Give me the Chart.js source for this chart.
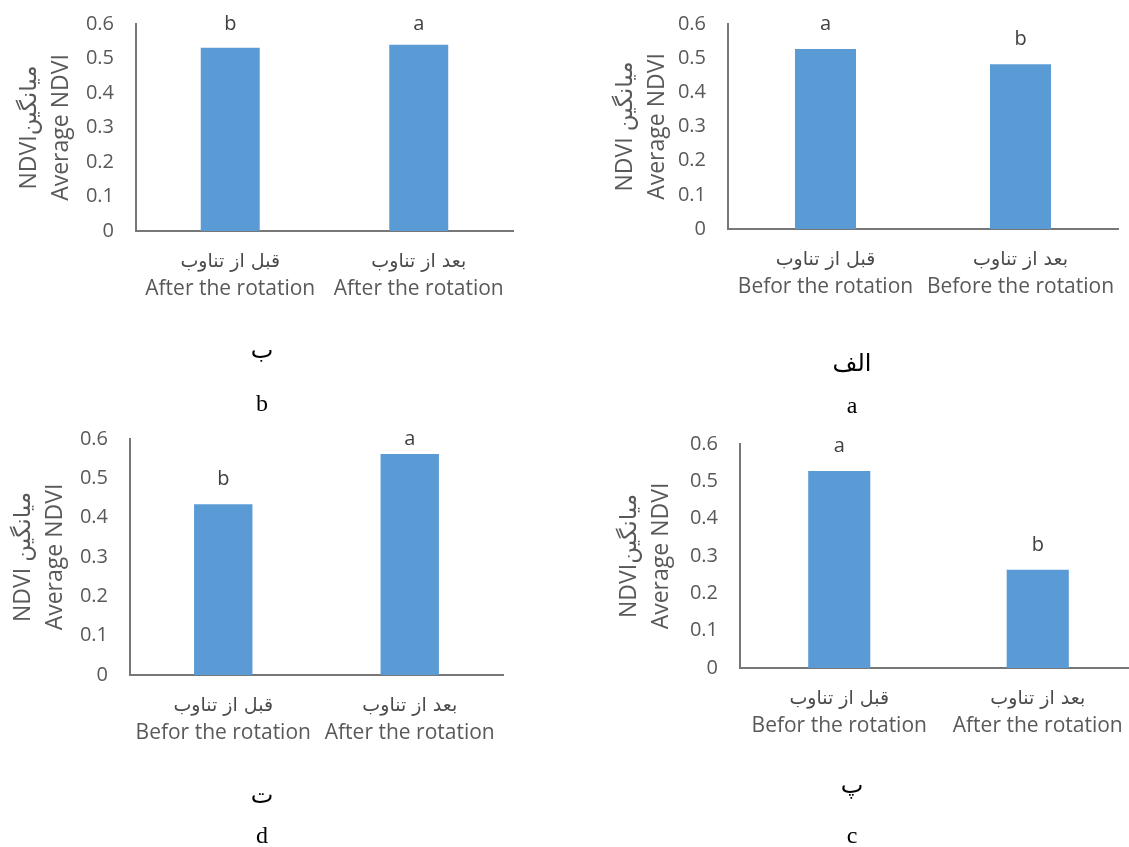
<!DOCTYPE html>
<html><head><meta charset="utf-8">
<script src="https://cdn.jsdelivr.net/npm/chart.js@4.4.1/dist/chart.umd.min.js"></script>
<style>
html,body{margin:0;padding:0;background:#fff;overflow:hidden;width:1129px;height:847px;position:relative;}
canvas{position:absolute;}
.cap{position:absolute;width:120px;text-align:center;font-family:"Liberation Serif","DejaVu Serif","DejaVu Sans",serif;font-size:24px;line-height:30px;color:#000;}
</style></head><body>
<canvas id="cB"></canvas>
<canvas id="cA"></canvas>
<canvas id="cD"></canvas>
<canvas id="cC"></canvas>
<div class="cap" style="left:202px;top:335px;">ب</div>
<div class="cap" style="left:202px;top:388px;">b</div>
<div class="cap" style="left:792px;top:348px;">الف</div>
<div class="cap" style="left:792px;top:390px;">a</div>
<div class="cap" style="left:202px;top:780px;">ت</div>
<div class="cap" style="left:202px;top:820px;">d</div>
<div class="cap" style="left:792px;top:770px;">پ</div>
<div class="cap" style="left:792px;top:820px;">c</div>
<script>
// ---- data ----
const categoriesFa = ["قبل از تناوب", "بعد از تناوب"];
const labelsEnA = ["Befor the rotation", "Before the rotation"];
const labelsEnB = ["After the rotation", "After the rotation"];
const labelsEnC = ["Befor the rotation", "After the rotation"];
const labelsEnD = ["Befor the rotation", "After the rotation"];
const valuesA = [0.527, 0.482];
const valuesB = [0.531, 0.540];
const valuesC = [0.528, 0.263];
const valuesD = [0.434, 0.562];
const lettersA = ["a", "b"];
const lettersB = ["b", "a"];
const lettersC = ["a", "b"];
const lettersD = ["b", "a"];
const yTickLabels = ["0", "0.1", "0.2", "0.3", "0.4", "0.5", "0.6"];
const yTitleA = ["NDVI میانگین", "Average NDVI"];
const yTitleB = ["NDVIمیانگین", "Average NDVI"];
const yTitleC = ["NDVIمیانگین", "Average NDVI"];
const yTitleD = ["NDVI میانگین", "Average NDVI"];

// ---- style ----
const BAR = "#5B9BD5";
const AXIS = "#777777";
const TXT = "#595959";
const FONT = "'Open Sans','DejaVu Sans',sans-serif";

function makeChart(id, box, area, labelsEn, values, letters, yTitle, titlePad) {
  const cv = document.getElementById(id);
  cv.width = box.w; cv.height = box.h;
  cv.style.left = box.x + "px"; cv.style.top = box.y + "px";
  cv.style.width = box.w + "px"; cv.style.height = box.h + "px";
  const extra = {
    id: "extra_" + id,
    afterDatasetsDraw(chart) {
      const ctx = chart.ctx;
      const meta = chart.getDatasetMeta(0);
      ctx.save();
      ctx.fillStyle = "#404040";
      ctx.font = "20px " + FONT;
      ctx.textAlign = "center";
      ctx.textBaseline = "middle";
      meta.data.forEach((bar, i) => {
        const y = Math.max(bar.y - 25, chart.chartArea.top);
        ctx.fillText(letters[i], bar.x, y);
      });
      const xs = chart.scales.x;
      ctx.fillStyle = "#4a4a4a";
      ctx.font = "19px 'DejaVu Sans',sans-serif";
      categoriesFa.forEach((t, i) => {
        ctx.fillText(t, xs.getPixelForValue(i), chart.chartArea.bottom + 31);
      });
      ctx.restore();
    }
  };
  return new Chart(cv, {
    type: "bar",
    data: {
      labels: labelsEn,
      datasets: [{ data: values, backgroundColor: BAR, borderWidth: 0,
        categoryPercentage: 1, barPercentage: 0.313 }]
    },
    options: {
      responsive: false, animation: false,
      devicePixelRatio: 1,
      layout: { padding: { left: 0, top: area.t - box.y, right: box.x + box.w - area.r, bottom: 0 } },
      plugins: { legend: { display: false }, tooltip: { enabled: false } },
      scales: {
        x: {
          offset: true,
          grid: { display: false, drawTicks: false },
          border: { color: AXIS, width: 2 },
          ticks: { color: TXT, font: { family: FONT, size: 21 }, padding: 45, maxRotation: 0, autoSkip: false },
          afterFit: s => { s.height = box.y + box.h - area.b; s.paddingLeft = 0; s.paddingRight = 0; }
        },
        y: {
          min: 0, max: 0.6,
          grid: { display: false, drawTicks: false },
          border: { color: AXIS, width: 2 },
          ticks: { stepSize: 0.1, color: TXT, font: { family: FONT, size: 20 }, padding: 22,
            callback: (v, i) => yTickLabels[i] },
          title: { display: true, text: yTitle, color: TXT,
            font: { family: FONT, size: 23, lineHeight: 32 / 23 },
            padding: { top: titlePad, bottom: 0 } },
          afterFit: s => { s.width = area.l - box.x; s.paddingTop = 0; s.paddingBottom = 0; }
        }
      }
    },
    plugins: [extra]
  });
}

makeChart("cB", { x: 0, y: 0, w: 560, h: 420 }, { l: 136, t: 24, r: 513, b: 231 }, labelsEnB, valuesB, lettersB, yTitleB, 13);
makeChart("cA", { x: 565, y: 0, w: 564, h: 420 }, { l: 728, t: 24, r: 1118, b: 229 }, labelsEnA, valuesA, lettersA, yTitleA, 44);
makeChart("cD", { x: 0, y: 420, w: 560, h: 427 }, { l: 130, t: 439, r: 503, b: 675 }, labelsEnD, valuesD, lettersD, yTitleD, 7);
makeChart("cC", { x: 565, y: 420, w: 580, h: 427 }, { l: 740, t: 444, r: 1137, b: 668 }, labelsEnC, valuesC, lettersC, yTitleC, 48);
</script>
</body></html>
